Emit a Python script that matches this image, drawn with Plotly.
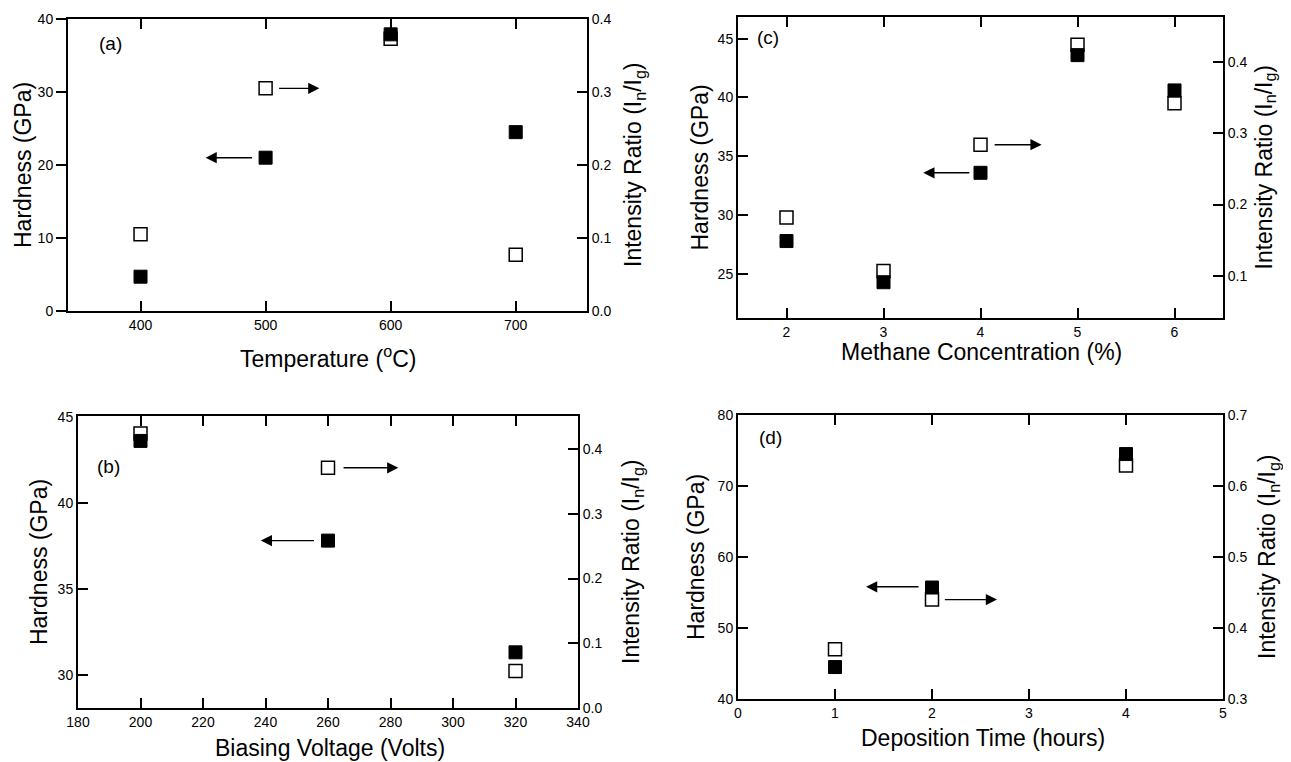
import plotly.graph_objects as go

# ---------------- data ----------------
# (a) Temperature
temp_c = [400, 500, 600, 700]
temp_hardness = [4.7, 21.0, 37.9, 24.5]
temp_ratio = [0.105, 0.305, 0.373, 0.077]

# (c) Methane concentration
methane_pct = [2, 3, 4, 5, 6]
methane_hardness = [27.8, 24.3, 33.6, 43.6, 40.6]
methane_ratio = [0.182, 0.107, 0.284, 0.424, 0.342]

# (b) Biasing voltage
bias_v = [200, 260, 320]
bias_hardness = [43.6, 37.8, 31.3]
bias_ratio = [0.424, 0.371, 0.057]

# (d) Deposition time
dep_h = [1, 2, 4]
dep_hardness = [44.5, 55.7, 74.5]
dep_ratio = [0.370, 0.440, 0.629]

FONT = "Liberation Sans, Arial, sans-serif"
W, H = 1291, 762
OFF = 8                      # page body margin
FW, FH = W - OFF, H - OFF    # figure size
TITLE_SIZE = 23
TICK_SIZE = 14

fig = go.Figure()

def fx(px):
    return (px - OFF) / FW

def fy(py):
    return 1 - (py - OFF) / FH

def px_dom(x0, x1):
    return [fx(x0), fx(x1)]

def py_dom(top, bottom):
    return [fy(bottom), fy(top)]

panels = [
    dict(xs=temp_c, hard=temp_hardness, ratio=temp_ratio,
         xd=(68, 587), yd=(19, 311), xr=[342, 757], hr=[0, 40], rr=[0, 0.4],
         xt=[400, 500, 600, 700], ht=[0, 10, 20, 30, 40], rt=[0.0, 0.1, 0.2, 0.3, 0.4],
         xtitle="Temperature (<sup>o</sup>C)", lticks="outside",
         xtpos=(328, 357), ltx=23, rtx=634),
    dict(xs=methane_pct, hard=methane_hardness, ratio=methane_ratio,
         xd=(738, 1223), yd=(17, 318), xr=[1.5, 6.5], hr=[21.26, 46.84], rr=[0.041, 0.463],
         xt=[2, 3, 4, 5, 6], ht=[25, 30, 35, 40, 45], rt=[0.1, 0.2, 0.3, 0.4],
         xtitle="Methane Concentration (%)", lticks="inside",
         xtpos=(981, 352), ltx=699, rtx=1265),
    dict(xs=bias_v, hard=bias_hardness, ratio=bias_ratio,
         xd=(78, 578), yd=(416, 708), xr=[180, 340], hr=[28.06, 45.05], rr=[0, 0.451],
         xt=[180, 200, 220, 240, 260, 280, 300, 320, 340], ht=[30, 35, 40, 45],
         rt=[0.0, 0.1, 0.2, 0.3, 0.4],
         xtitle="Biasing Voltage (Volts)", lticks="inside",
         xtpos=(330, 748), ltx=39, rtx=632),
    dict(xs=dep_h, hard=dep_hardness, ratio=dep_ratio,
         xd=(738, 1223), yd=(415, 699), xr=[0, 5], hr=[40, 80], rr=[0.3, 0.7],
         xt=[0, 1, 2, 3, 4, 5], ht=[40, 50, 60, 70, 80], rt=[0.3, 0.4, 0.5, 0.6, 0.7],
         xtitle="Deposition Time (hours)", lticks="inside",
         xtpos=(983, 738), ltx=696, rtx=1268),
]

axis_common = dict(showline=True, linecolor="black", linewidth=2, showgrid=False,
                   zeroline=False, ticklen=10, tickwidth=2, tickcolor="black",
                   automargin=False,
                   tickfont=dict(family=FONT, size=TICK_SIZE, color="black"))

ann = []
title_font = dict(family=FONT, size=TITLE_SIZE, color="black")

layout = dict()
for i, p in enumerate(panels):
    xi = i + 1
    yr_i = 2 * i + 1   # ratio (right) axis, base
    yh_i = 2 * i + 2   # hardness (left) axis, overlaying
    xname = "x" if xi == 1 else f"x{xi}"
    yr_name = "y" if yr_i == 1 else f"y{yr_i}"
    yh_name = f"y{yh_i}"
    xkey = "xaxis" if xi == 1 else f"xaxis{xi}"
    yrkey = "yaxis" if yr_i == 1 else f"yaxis{yr_i}"
    yhkey = f"yaxis{yh_i}"

    layout[xkey] = dict(axis_common, domain=px_dom(*p["xd"]), anchor=yr_name,
                        range=p["xr"], tickmode="array", tickvals=p["xt"],
                        ticks="inside", mirror="ticks")
    layout[yrkey] = dict(axis_common, domain=py_dom(*p["yd"]), anchor=xname,
                         side="right", range=p["rr"], tickmode="array",
                         tickvals=p["rt"], tickformat=".1f", ticks="inside")
    layout[yhkey] = dict(axis_common, overlaying=yr_name, anchor=xname, side="left",
                         range=p["hr"], tickmode="array", tickvals=p["ht"],
                         ticks=p["lticks"])

    # axis titles (placed as paper annotations)
    ycen = (p["yd"][0] + p["yd"][1]) / 2
    ann.append(dict(xref="paper", yref="paper", x=fx(p["xtpos"][0]), y=fy(p["xtpos"][1]),
                    xanchor="center", yanchor="middle", text=p["xtitle"],
                    showarrow=False, font=title_font))
    ann.append(dict(xref="paper", yref="paper", x=fx(p["ltx"]), y=fy(ycen),
                    xanchor="center", yanchor="middle", text="Hardness (GPa)",
                    textangle=-90, showarrow=False, font=title_font))
    ann.append(dict(xref="paper", yref="paper", x=fx(p["rtx"]), y=fy(ycen),
                    xanchor="center", yanchor="middle",
                    text="Intensity Ratio (I<sub>n</sub>/I<sub>g</sub>)",
                    textangle=-90, showarrow=False, font=title_font))

    # open squares: intensity ratio (right axis)
    fig.add_trace(go.Scatter(x=p["xs"], y=p["ratio"], xaxis=xname, yaxis=yr_name,
                             mode="markers", showlegend=False,
                             marker=dict(symbol="square", size=13, color="white",
                                         line=dict(color="black", width=1.5))))
    # filled squares: hardness (left axis)
    fig.add_trace(go.Scatter(x=p["xs"], y=p["hard"], xaxis=xname, yaxis=yh_name,
                             mode="markers", showlegend=False,
                             marker=dict(symbol="square", size=13, color="black",
                                         line=dict(color="black", width=1))))

def arrow(xref, yref, tail_x, tip_x, y):
    ann.append(dict(xref=xref, yref=yref, axref=xref, ayref=yref,
                    x=tip_x, y=y, ax=tail_x, ay=y, text="", showarrow=True,
                    arrowhead=2, arrowsize=1.6, arrowwidth=1.4, arrowcolor="black"))

def label(xref, yref, x, y, t):
    ann.append(dict(xref=xref, yref=yref, x=x, y=y, text=t, showarrow=False,
                    font=dict(family=FONT, size=19, color="black")))

# (a)
arrow("x", "y", 509.6, 543, temp_ratio[1])
arrow("x", "y2", 490.4, 452, temp_hardness[1])
label("x", "y2", 376, 36.7, "(a)")
# (c)
arrow("x2", "y3", 4.13, 4.63, methane_ratio[2])
arrow("x2", "y4", 3.9, 3.41, methane_hardness[2])
label("x2", "y4", 1.81, 45.1, "(c)")
# (b)
arrow("x3", "y5", 264.5, 282.5, bias_ratio[1])
arrow("x3", "y6", 256, 238.5, bias_hardness[1])
label("x3", "y6", 189.9, 42.1, "(b)")
# (d)
arrow("x4", "y8", 1.877, 1.32, 55.8)
arrow("x4", "y7", 2.117, 2.67, dep_ratio[1])
label("x4", "y8", 0.33, 76.9, "(d)")

fig.update_layout(**layout)
fig.update_layout(width=FW, height=FH, margin=dict(l=0, r=0, t=0, b=0),
                  paper_bgcolor="white", plot_bgcolor="white",
                  annotations=ann, showlegend=False,
                  font=dict(family=FONT, color="black"))

fig.write_html("out.html")
